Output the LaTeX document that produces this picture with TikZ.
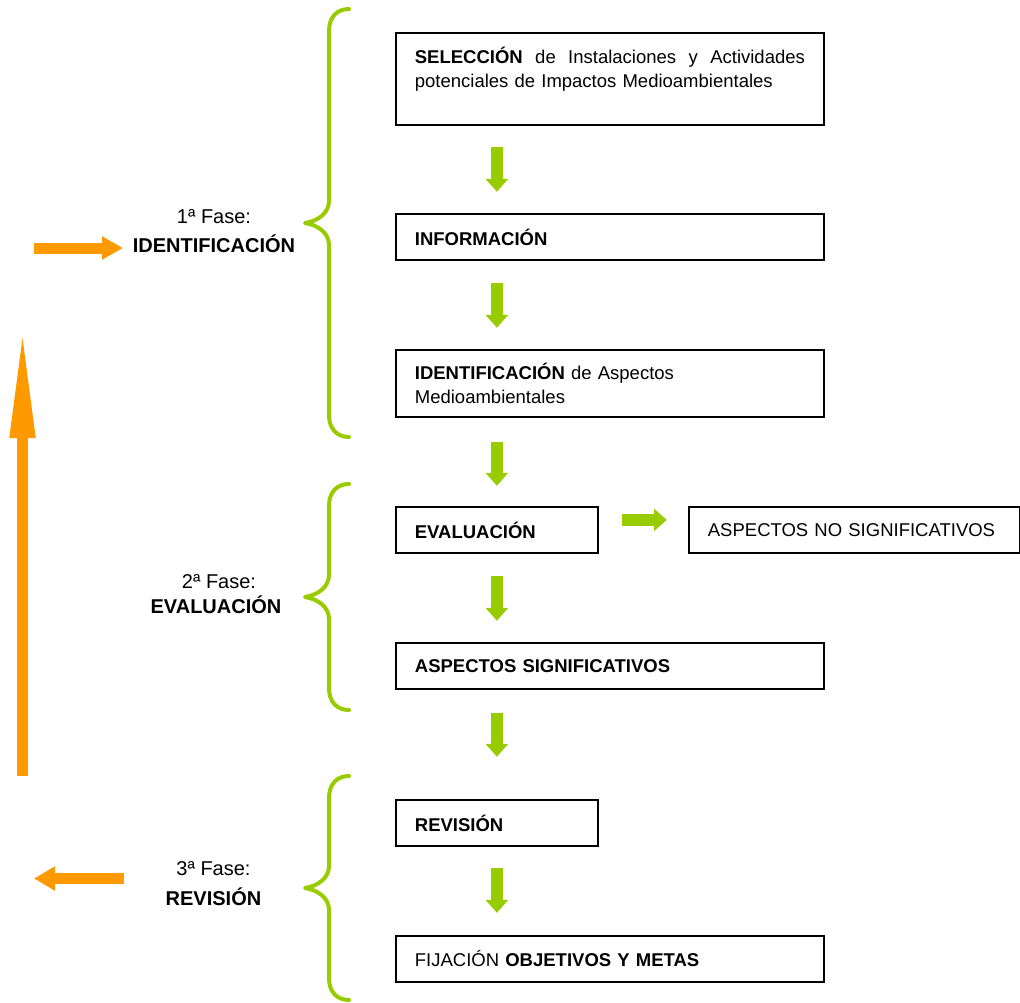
\documentclass[tikz,border=0pt]{standalone}
\usepackage{fontspec}
\setmainfont{Liberation Sans}
\usetikzlibrary{arrows.meta,calc}
\definecolor{brgreen}{HTML}{99CC00}
\definecolor{brorange}{HTML}{FF9900}
\tikzset{
  box/.style={draw=black, line width=1.8pt, rectangle, anchor=north west, inner xsep=19pt, inner ysep=0pt, align=left, minimum height=46pt, font=\fontsize{18.5}{24}\selectfont},
  phase/.style={anchor=base, inner sep=0pt, font=\fontsize{20}{24}\selectfont},
  garrow/.style={draw=brgreen, line width=12pt, -{Triangle[width=22pt,length=13pt]}},
  oarrow/.style={draw=brorange, line width=11pt},
  brace/.style={draw=brgreen, line width=4pt, line cap=round, line join=round},
}
\newcommand\greenbrace[2]{%
  \draw[brace] (349,#1) .. controls (337,#1) and (329,#1+8) .. (329,#1+22)
    -- (329,{(#1+#2)/2-22}) .. controls (329,{(#1+#2)/2-10}) and (318,{(#1+#2)/2-2}) .. (305,{(#1+#2)/2})
    .. controls (318,{(#1+#2)/2+2}) and (329,{(#1+#2)/2+10}) .. (329,{(#1+#2)/2+22})
    -- (329,#2-22) .. controls (329,#2-8) and (337,#2) .. (349,#2);}
\begin{document}
\begin{tikzpicture}[x=1pt,y=-1pt]
\useasboundingbox (0,0) rectangle (1020,1002);

% boxes
\node[box, text width=390pt, minimum height=92pt] (b1) at (395,32)
  {\textbf{SELECCIÓN}\hfill de\hfill Instalaciones\hfill y\hfill Actividades\\ potenciales de Impactos Medioambientales\\ \mbox{}};
\node[box, text width=390pt] (b2) at (395,213) {\textbf{INFORMACIÓN}};
\node[box, text width=390pt, minimum height=67pt] (b3) at (395,349)
  {\textbf{IDENTIFICACIÓN} de Aspectos\\ Medioambientales};
\node[box, text width=164pt] (b4) at (395,506) {\textbf{EVALUACIÓN}};
\node[box, text width=293pt] (b5) at (688,506) {ASPECTOS NO SIGNIFICATIVOS};
\node[box, text width=390pt] (b6) at (395,642) {\textbf{ASPECTOS SIGNIFICATIVOS}};
\node[box, text width=164pt] (b7) at (395,799) {\textbf{REVISIÓN}};
\node[box, text width=390pt] (b8) at (395,935) {FIJACIÓN \textbf{OBJETIVOS Y METAS}};

% green arrows
\draw[garrow] ($(b1.south -| b4.center)+(0,21)$) -- ++(0,45);
\draw[garrow] ($(b2.south -| b4.center)+(0,22)$) -- ++(0,45);
\draw[garrow] ($(b3.south -| b4.center)+(0,24)$) -- ++(0,44);
\draw[garrow] ($(b4.south)+(0,22)$) -- ++(0,45);
\draw[garrow] ($(b6.south -| b4.center)+(0,23)$) -- ++(0,44);
\draw[garrow] ($(b7.south)+(0,21)$) -- ++(0,45);
\draw[garrow] ($(b4.east)+(23,-10)$) -- ++(45,0);

% braces
\greenbrace{9}{437}
\greenbrace{484}{710}
\greenbrace{776}{1000}

% phase labels
\node[phase] (f1a) at (214,223) {1ª Fase:};
\node[phase] (f1b) at (214,252) {\textbf{IDENTIFICACIÓN}};
\node[phase] (f2a) at (219,588) {2ª Fase:};
\node[phase] (f2b) at (216,613) {\textbf{EVALUACIÓN}};
\node[phase] (f3a) at (213.5,875) {3ª Fase:};
\node[phase] (f3b) at (213.5,905) {\textbf{REVISIÓN}};

% orange arrows
\coordinate (or1) at (34,248);
\coordinate (or2) at (123,248);
\coordinate (ou1) at (22.5,776);
\coordinate (ou2) at (22.5,326);
\coordinate (ol1) at (124,878.5);
\coordinate (ol2) at (34,878.5);
\draw[oarrow, -{Triangle[width=22pt,length=21pt]}] (or1) -- (or2);
\draw[oarrow, -{Triangle[width=23pt,length=112pt]}] (ou1) -- (ou2);
\draw[oarrow, -{Triangle[width=23pt,length=21pt]}] (ol1) -- (ol2);
\end{tikzpicture}
\end{document}
